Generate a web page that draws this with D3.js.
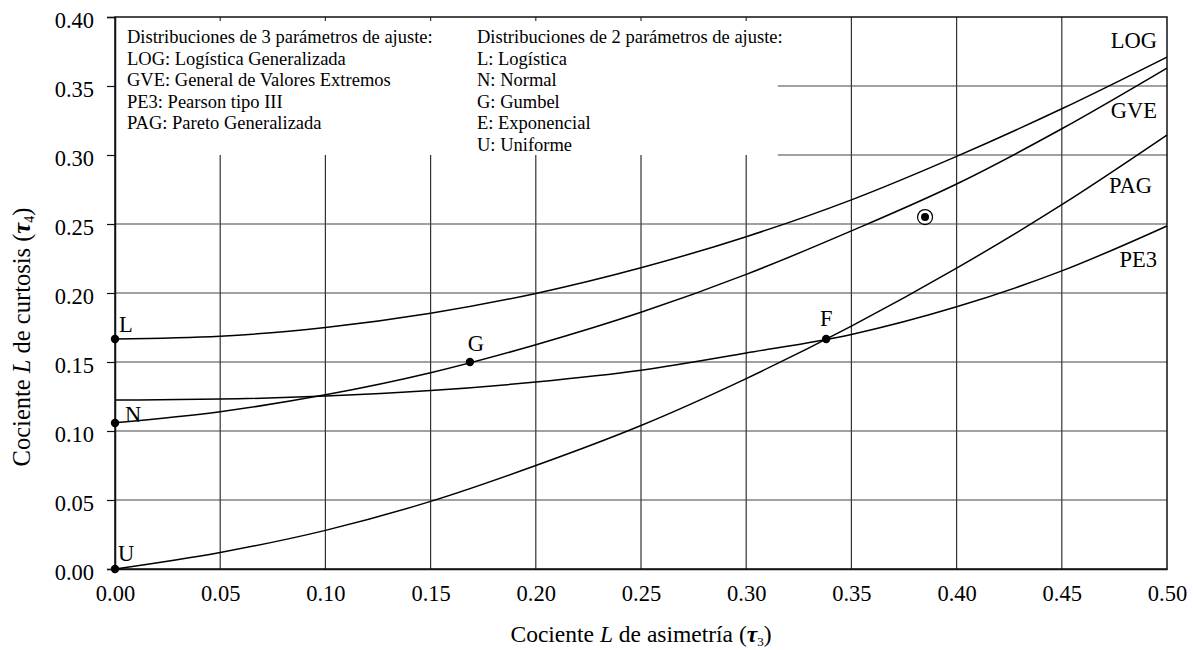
<!DOCTYPE html>
<html>
<head>
<meta charset="utf-8">
<script src="https://cdn.jsdelivr.net/npm/d3@7"></script>
<style>
  body { margin: 0; background: #fff; }
  text { font-family: "Liberation Serif", "DejaVu Serif", serif; fill: #000; }
</style>
</head>
<body>
<svg id="chart" width="1193" height="650"></svg>
<script>
// tau3 sample positions read along the x axis
const tau3 = [0, 0.05, 0.10, 0.15, 0.20, 0.25, 0.30, 0.35, 0.40, 0.45, 0.50];

// tau4
const logValues = [0.1667, 0.1687, 0.1750, 0.1853, 0.1997, 0.2183, 0.2408, 0.2675, 0.2990, 0.3335, 0.3710];
const gveValues = [0.1060, 0.1140, 0.1262, 0.1422, 0.1625, 0.1860, 0.2135, 0.2450, 0.2790, 0.3190, 0.3630];
const pagValues = [0.0000, 0.0120, 0.0280, 0.0490, 0.0750, 0.1040, 0.1380, 0.1760, 0.2180, 0.2640, 0.3145];
const pe3Values = [0.1224, 0.1231, 0.1253, 0.1293, 0.1355, 0.1440, 0.1565, 0.1700, 0.1900, 0.2160, 0.2486];

const curveNames = ['LOG', 'GVE', 'PAG', 'PE3'];

// two-parameter distributions (points)
const pointNames = ['L', 'N', 'G', 'F', 'U'];
const pointTau3 = [0, 0, 0.1687, 0.338, 0];
const pointTau4 = [0.1667, 0.1058, 0.1500, 0.1667, 0];

// sample point (circled)
const sampleTau3 = 0.385;
const sampleTau4 = 0.255;

const xTicks = [0, 0.05, 0.10, 0.15, 0.20, 0.25, 0.30, 0.35, 0.40, 0.45, 0.50];
const yTicks = [0, 0.05, 0.10, 0.15, 0.20, 0.25, 0.30, 0.35, 0.40];

const legend3Title = 'Distribuciones de 3 parámetros de ajuste:';
const legend3 = ['LOG: Logística Generalizada', 'GVE: General de Valores Extremos',
                 'PE3: Pearson tipo III', 'PAG: Pareto Generalizada'];
const legend2Title = 'Distribuciones de 2 parámetros de ajuste:';
const legend2 = ['L: Logística', 'N: Normal', 'G: Gumbel', 'E: Exponencial', 'U: Uniforme'];

const width = 1193, height = 650;
const margin = {top: 17, right: 26, bottom: 81, left: 115};
const w = width - margin.left - margin.right;
const h = height - margin.top - margin.bottom;

const svg = d3.select('#chart');
const g = svg.append('g').attr('transform', `translate(${margin.left},${margin.top})`);

const x = d3.scaleLinear().domain([0, 0.5]).range([0, w]);
const y = d3.scaleLinear().domain([0, 0.4]).range([h, 0]);

// legend area is kept clear of grid
const boxTau3 = 0.315, boxTau4 = 0.30;

// grid
g.append('g').selectAll('line.v')
    .data(xTicks.filter(d => d > 0 && d < 0.5))
    .enter().append('line')
    .attr('x1', d => x(d)).attr('x2', d => x(d))
    .attr('y1', d => d <= 0.30 ? y(boxTau4) : 0)
    .attr('y2', h)
    .style('stroke', '#333').style('stroke-width', 1.2);

g.append('g').selectAll('line.h')
    .data(yTicks.filter(d => d > 0 && d < 0.4))
    .enter().append('line')
    .attr('y1', d => y(d)).attr('y2', d => y(d))
    .attr('x1', d => d >= boxTau4 ? x(boxTau3) : 0)
    .attr('x2', w)
    .style('stroke', '#444').style('stroke-width', 1.2);

// small inner ticks on top border inside the legend box
g.append('g').selectAll('line')
    .data(xTicks.filter(d => d > 0 && d <= 0.30))
    .enter().append('line')
    .attr('x1', d => x(d)).attr('x2', d => x(d))
    .attr('y1', 0).attr('y2', 4)
    .style('stroke', '#333').style('stroke-width', 1.2);

// frame
g.append('rect')
    .attr('width', w).attr('height', h)
    .style('fill', 'none').style('stroke', '#111').style('stroke-width', 1.5);

// axes
const yAxis = g.append('g')
    .call(d3.axisLeft(y).tickValues(yTicks).tickFormat(d3.format('.2f')).tickSize(8).tickPadding(13));
const xAxis = g.append('g')
    .attr('transform', `translate(0,${h})`)
    .call(d3.axisBottom(x).tickValues(xTicks).tickFormat(d3.format('.2f')).tickSize(0).tickPadding(16));

[yAxis, xAxis].forEach(a => {
    a.attr('font-family', null);
    a.select('.domain').style('stroke', '#111').style('stroke-width', 1.5);
    a.selectAll('.tick line').style('stroke', '#111').style('stroke-width', 1.2);
    a.selectAll('text').style('font-family', '"Liberation Serif", serif').style('font-size', '22.5px').style('fill', '#000');
});
yAxis.selectAll('text').attr('dy', '0.45em');

// curves
const series = [logValues, gveValues, pagValues, pe3Values];
const line = d3.line()
    .x((d, i) => x(tau3[i]))
    .y(d => y(d))
    .curve(d3.curveMonotoneX);

g.append('g').selectAll('path')
    .data(series)
    .enter().append('path')
    .attr('d', line)
    .style('fill', 'none')
    .style('stroke', '#000')
    .style('stroke-width', 1.5);

// curve labels at right
const curveLabelY = {LOG: 48, GVE: 118, PAG: 193, PE3: 267};
const curveLabelX = {LOG: 1157, GVE: 1157, PAG: 1152, PE3: 1157};
svg.append('g').selectAll('text')
    .data(curveNames)
    .enter().append('text')
    .attr('x', d => curveLabelX[d])
    .attr('y', d => curveLabelY[d])
    .attr('text-anchor', 'end')
    .style('font-size', '22.5px')
    .text(d => d);

// points
const pts = pointNames.map((n, i) => ({name: n, t3: pointTau3[i], t4: pointTau4[i]}));
g.append('g').selectAll('circle')
    .data(pts)
    .enter().append('circle')
    .attr('cx', d => x(d.t3))
    .attr('cy', d => y(d.t4))
    .attr('r', 4.2)
    .style('fill', '#000');

const labelOffset = {
    L: {dx: 4, dy: -7, anchor: 'start'},
    N: {dx: 10, dy: -1, anchor: 'start'},
    G: {dx: 6, dy: -11, anchor: 'middle'},
    F: {dx: 0, dy: -13, anchor: 'middle'},
    U: {dx: 3, dy: -8, anchor: 'start'}
};
g.append('g').selectAll('text')
    .data(pts)
    .enter().append('text')
    .attr('x', d => x(d.t3) + labelOffset[d.name].dx)
    .attr('y', d => y(d.t4) + labelOffset[d.name].dy)
    .attr('text-anchor', d => labelOffset[d.name].anchor)
    .style('font-size', '22.5px')
    .text(d => d.name);

// circled sample point
g.append('circle')
    .attr('cx', x(sampleTau3)).attr('cy', y(sampleTau4)).attr('r', 7.5)
    .style('fill', 'none').style('stroke', '#000').style('stroke-width', 1.2);
g.append('circle')
    .attr('cx', x(sampleTau3)).attr('cy', y(sampleTau4)).attr('r', 4)
    .style('fill', '#000');

// legend text
const legendLineH = 21.5;
const col1 = svg.append('g').attr('transform', 'translate(127,43)');
[legend3Title].concat(legend3).forEach((t, i) => {
    col1.append('text').attr('y', i * legendLineH).style('font-size', '18.5px').text(t);
});
const col2 = svg.append('g').attr('transform', 'translate(477,43)');
[legend2Title].concat(legend2).forEach((t, i) => {
    col2.append('text').attr('y', i * legendLineH).style('font-size', '18.5px').text(t);
});

// axis titles
const xTitle = svg.append('text')
    .attr('x', margin.left + w / 2)
    .attr('y', 642)
    .attr('text-anchor', 'middle')
    .style('font-size', '23.5px');
xTitle.append('tspan').text('Cociente ');
xTitle.append('tspan').style('font-style', 'italic').text('L');
xTitle.append('tspan').text(' de asimetría (');
xTitle.append('tspan').style('font-style', 'italic').style('font-weight', 'bold').text('τ');
xTitle.append('tspan').attr('dy', 4).style('font-size', '13px').text('3');
xTitle.append('tspan').attr('dy', -4).text(')');

const yTitle = svg.append('text')
    .attr('transform', 'translate(30,337) rotate(-90)')
    .attr('text-anchor', 'middle')
    .style('font-size', '24.5px');
yTitle.append('tspan').text('Cociente ');
yTitle.append('tspan').style('font-style', 'italic').text('L');
yTitle.append('tspan').text(' de curtosis (');
yTitle.append('tspan').style('font-style', 'italic').style('font-weight', 'bold').text('τ');
yTitle.append('tspan').attr('dy', 4).style('font-size', '14px').text('4');
yTitle.append('tspan').attr('dy', -4).text(')');
</script>
</body>
</html>
